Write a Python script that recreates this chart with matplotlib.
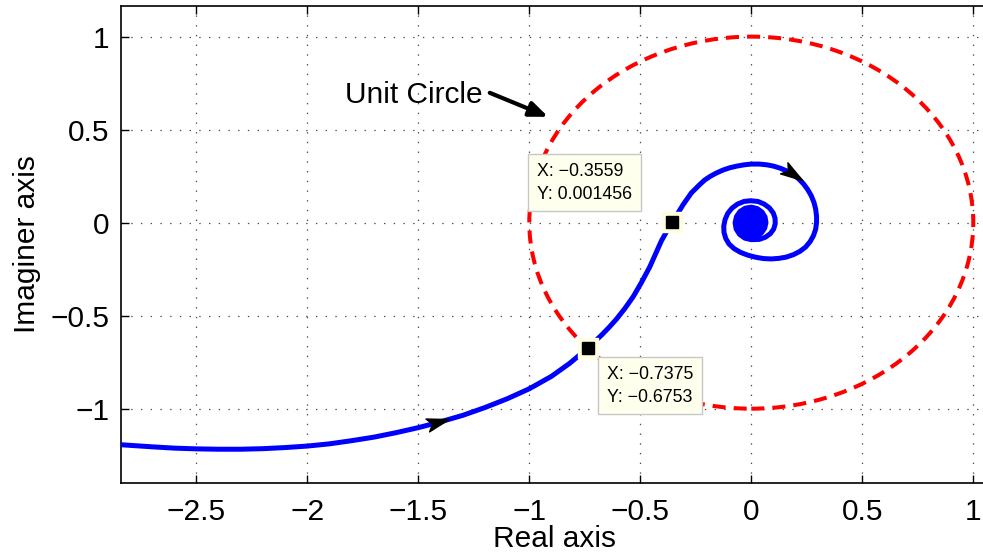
import numpy as np
import matplotlib.pyplot as plt
from matplotlib.path import Path
from matplotlib.markers import MarkerStyle
from matplotlib.transforms import Affine2D
from matplotlib.patches import Circle

plt.rcParams["font.family"] = ["Liberation Sans", "DejaVu Sans"]
plt.rcParams["lines.scale_dashes"] = False

# Nyquist curve: real parts
re_vals = [
    -2.85, -2.7, -2.6, -2.5, -2.4, -2.3, -2.2, -2.1, -2.0, -1.9, -1.8, -1.7,
    -1.6, -1.5, -1.41, -1.3, -1.2, -1.1, -1.0, -0.9, -0.818, -0.7375,
    -0.675, -0.64, -0.607, -0.57, -0.532, -0.495, -0.457, -0.43, -0.405,
    -0.38, -0.3559, -0.33, -0.307, -0.27, -0.232, -0.21, -0.185, -0.157,
    -0.127, -0.097, -0.065, -0.032, 0.0, 0.035, 0.07, 0.10, 0.13, 0.16,
    0.188, 0.213, 0.235, 0.254, 0.27, 0.282, 0.29, 0.294, 0.294, 0.29,
    0.28, 0.265, 0.244, 0.218, 0.19, 0.158, 0.124, 0.09, 0.055, 0.02,
    -0.015, -0.048, -0.077, -0.1, -0.115, -0.123, -0.124, -0.118, -0.106,
    -0.087, -0.062, -0.033, -0.003, 0.03, 0.058, 0.082, 0.099, 0.107,
    0.108, 0.101, 0.086, 0.064, 0.036, 0.0,
    -0.029, -0.0529, -0.0683, -0.073, -0.0666, -0.0506, -0.0271, 0.0,
    0.0264, 0.0481, 0.062, 0.0662, 0.0603, 0.0459, 0.0245, 0.0,
    -0.0433, -0.0595, -0.0411, 0.0, 0.0385, 0.0527, 0.0363, 0.0,
    -0.0338, -0.0459, -0.0315, 0.0, 0.029, 0.0392, 0.0268, 0.0,
    -0.0242, -0.0324, -0.022, 0.0, 0.0194, 0.0257, 0.0172, 0.0,
    -0.0147, -0.0189, -0.0124, 0.0, 0.0096, 0.0113, 0.0, 0.0,
]
# imaginary parts
im_vals = [
    -1.193, -1.205, -1.212, -1.216, -1.218, -1.218, -1.215, -1.209, -1.201,
    -1.189, -1.172, -1.153, -1.129, -1.102, -1.074, -1.036, -0.994, -0.947,
    -0.893, -0.826, -0.756, -0.6753,
    -0.605, -0.562, -0.518, -0.462, -0.398, -0.322, -0.237, -0.165, -0.098,
    -0.045, 0.001456, 0.052, 0.097, 0.16, 0.205, 0.229, 0.249, 0.267,
    0.283, 0.295, 0.304, 0.311, 0.315, 0.315, 0.311, 0.304, 0.293, 0.278,
    0.259, 0.236, 0.209, 0.178, 0.145, 0.11, 0.073, 0.035, 0.0, -0.035,
    -0.07, -0.102, -0.132, -0.155, -0.172, -0.185, -0.192, -0.195, -0.193,
    -0.186, -0.175, -0.16, -0.14, -0.115, -0.085, -0.052, -0.018, 0.017,
    0.05, 0.078, 0.1, 0.114, 0.118, 0.114, 0.1, 0.079, 0.052, 0.024,
    -0.005, -0.034, -0.059, -0.078, -0.09, -0.0914,
    -0.0834, -0.0631, -0.0338, 0.0, 0.0329, 0.0604, 0.078, 0.0833,
    0.076, 0.0574, 0.0307, 0.0, -0.0298, -0.0547, -0.0705, -0.0753,
    -0.0517, 0.0, 0.049, 0.0672, 0.046, 0.0, -0.0433, -0.0591,
    -0.0403, 0.0, 0.0376, 0.0511, 0.0346, 0.0, -0.0319, -0.043,
    -0.0289, 0.0, 0.0262, 0.0349, 0.0232, 0.0, -0.0205, -0.0269,
    -0.0175, 0.0, 0.0148, 0.0188, 0.0114, 0.0, -0.008, 0.0,
]
# where the direction arrows sit on the curve
arrow_at = [(-1.41, -1.074), (0.188, 0.259)]

# data tips
tip_x = [-0.3559, -0.7375]
tip_y = [0.001456, -0.6753]
tip_text = ["X: \u22120.3559\nY: 0.001456", "X: \u22120.7375\nY: \u22120.6753"]
tip_offset = [(-97.5, 42.5), (13.8, -13.0)]  # points

xticks = [-2.5, -2, -1.5, -1, -0.5, 0, 0.5, 1]
xticklabels = ["\u22122.5", "\u22122", "\u22121.5", "\u22121", "\u22120.5", "0", "0.5", "1"]
yticks = [-1, -0.5, 0, 0.5, 1]
yticklabels = ["\u22121", "\u22120.5", "0", "0.5", "1"]

fig = plt.figure(figsize=(9.83, 5.54), dpi=100)
ax = fig.add_axes([0.1229, 0.128, 0.8898, 0.8616])
ax.set_xlim(-2.84, 1.1)
ax.set_ylim(-1.40, 1.166)

ax.set_xticks(xticks)
ax.set_xticklabels(xticklabels)
ax.set_yticks(yticks)
ax.set_yticklabels(yticklabels)
ax.tick_params(direction="in", length=6, width=1, top=True, right=True,
               labelsize=21.5, pad=8)
ax.tick_params(axis="x", pad=11)
for sp in ax.spines.values():
    sp.set_linewidth(1.2)
ax.grid(True, linestyle=(0, (1, 6)), color="0.3", linewidth=0.9)
ax.set_axisbelow(True)

ax.set_xlabel("Real axis", fontsize=21.5)
ax.xaxis.set_label_coords(0.4964, -0.087)
ax.set_ylabel("Imaginer axis", fontsize=21.5, labelpad=7)

# unit circle
ax.add_patch(Circle((0, 0), 1, fill=False, edgecolor="red", linewidth=2.9,
                    linestyle=(0, (9.4, 5.8)), zorder=2))

# nyquist curve
ax.plot(re_vals, im_vals, color="blue", linewidth=3.6, zorder=3,
        solid_joinstyle="round", solid_capstyle="round")

# direction arrows
arrow_path = Path([(1, 0), (-1, 0.6), (-0.55, 0), (-1, -0.6), (1, 0)],
                  [Path.MOVETO, Path.LINETO, Path.LINETO, Path.LINETO, Path.CLOSEPOLY])
re_arr = np.array(re_vals)
im_arr = np.array(im_vals)
for ax_x, ax_y in arrow_at:
    i = int(np.argmin((re_arr - ax_x) ** 2 + (im_arr - ax_y) ** 2))
    p0 = ax.transData.transform((re_vals[i - 1], im_vals[i - 1]))
    p1 = ax.transData.transform((re_vals[i + 1], im_vals[i + 1]))
    ang = np.degrees(np.arctan2(p1[1] - p0[1], p1[0] - p0[0]))
    m = MarkerStyle(arrow_path, transform=Affine2D().rotate_deg(ang))
    ax.plot(re_vals[i], im_vals[i], marker=m, markersize=16, color="black",
            linestyle="none", zorder=4)

# "Unit Circle" label
ax.text(-1.831, 0.641, "Unit Circle", fontsize=21.5, ha="left", va="baseline", zorder=5)
ax.annotate("", xy=(-0.915, 0.569), xytext=(-1.178, 0.698),
            arrowprops=dict(arrowstyle="-|>,head_length=1.1,head_width=0.45",
                            color="black", lw=3, shrinkA=0, shrinkB=0), zorder=5)

# data tip markers and boxes
for x, y, txt, off in zip(tip_x, tip_y, tip_text, tip_offset):
    ax.plot(x, y, "s", markersize=14.4, color="#ffffe0", zorder=5)
    ax.plot(x, y, "s", markersize=8.8, color="black", zorder=6)
    ax.annotate(txt, xy=(x, y), xytext=off, textcoords="offset points",
                fontsize=12.8, ha="left", va="top", linespacing=1.4, zorder=7,
                bbox=dict(boxstyle="square,pad=0.5", fc="#ffffee", ec="0.78", lw=1))

fig.savefig("out.png", dpi=100)
